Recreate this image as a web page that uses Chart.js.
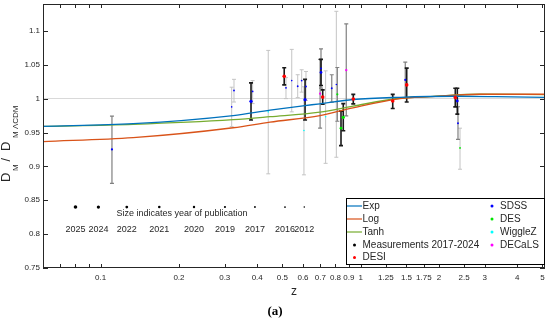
<!DOCTYPE html>
<html lang="en">
<head>
<meta charset="UTF-8">
<title>D_M / D_M LCDM vs z</title>
<style>
  body { margin: 0; background: #fff; }
  #wrap { width: 550px; height: 320px; position: relative; }
</style>
</head>
<body>
<div id="wrap"><canvas id="chart"></canvas></div>
<script src="https://cdn.jsdelivr.net/npm/chart.js"></script>
<script>
// model curves
const expZ = [0.06, 0.1334, 0.3232, 0.448, 0.6, 0.697, 0.934, 1.416, 2.306, 3.3, 5.115];
const expVal = [0.959, 0.963, 0.975, 0.983, 0.9894, 0.9924, 0.9987, 1.002, 1.0035, 1.003, 1.002];
const logZ = [0.06, 0.1334, 0.3232, 0.448, 0.697, 0.934, 1.416, 1.85, 2.87, 5.115];
const logVal = [0.9366, 0.9424, 0.957, 0.9653, 0.975, 0.9865, 1.0001, 1.003, 1.0065, 1.0065];
const tanhZ = [0.06, 0.1334, 0.3232, 0.448, 0.697, 0.934, 1.416, 1.85, 2.87, 5.115];
const tanhVal = [0.959, 0.962, 0.9689, 0.9733, 0.980, 0.989, 1.0006, 1.003, 1.0065, 1.006];

// measurements: z, value, lower / upper end of error bar, year of publication
const sdssZ = [0.1105, 0.319, 0.3256, 0.3786, 0.384, 0.516, 0.543, 0.5725, 0.593, 0.611, 0.616, 0.7036, 0.7036, 0.774, 0.806, 1.484, 2.353, 2.367];
const sdssVal = [0.925, 0.9878, 1.012, 0.9961, 1.0106, 1.016, 1.0266, 1.0183, 1.0266, 0.9985, 1.0179, 1.0445, 1.0387, 1.0154, 1.0208, 1.0276, 0.9965, 0.9637];
const sdssLo = [0.875, 0.9587, 0.995, 0.9685, 0.9927, 1.0, 0.9805, 1.0015, 1.0096, 0.9685, 0.9975, 1.0155, 1.0193, 0.995, 0.9135, 1.0015, 0.9772, 0.94];
const sdssHi = [0.9743, 1.0169, 1.0285, 1.0233, 1.0266, 1.031, 1.0727, 1.0353, 1.0426, 1.0285, 1.0401, 1.0735, 1.058, 1.0353, 1.1289, 1.0538, 1.0154, 0.988];
const sdssYear = [2019, 2012, 2016, 2024, 2016, 2016, 2012, 2016, 2016, 2024, 2016, 2017, 2022, 2017, 2012, 2019, 2022, 2017];

const desZ = [0.813, 0.840, 0.857, 2.41];
const desVal = [1.0063, 0.9564, 0.9724, 0.9273];
const desLo = [0.9666, 0.9307, 0.9525, 0.8958];
const desHi = [1.046, 0.9815, 0.9927, 0.9564];
const desYear = [2019, 2022, 2024, 2016];

const wigZ = [0.441, 0.605, 0.733];
const wigVal = [0.9805, 0.953, 0.9733];
const wigLo = [0.889, 0.8875, 0.9045];
const wigHi = [1.0712, 1.0175, 1.041];
const wigYear = [2012, 2012, 2012];

const decZ = [0.698, 0.880];
const decVal = [1.0073, 1.0421];
const decLo = [0.9564, 0.9747];
const decHi = [1.058, 1.1105];
const decYear = [2019, 2020];

const desiZ = [0.508, 0.7143, 0.9365, 1.328, 1.503, 2.311];
const desiVal = [1.0329, 1.0023, 0.9994, 0.9965, 1.0203, 1.0015];
const desiLo = [1.0203, 0.9917, 0.9922, 0.9855, 0.995, 0.9878];
const desiHi = [1.0455, 1.013, 1.0063, 1.0063, 1.045, 1.0154];
const desiYear = [2025, 2025, 2025, 2025, 2025, 2025];

// size key
const keyYears = [2025, 2024, 2022, 2021, 2020, 2019, 2017, 2016, 2012];
const keyZ = [0.080, 0.098, 0.126, 0.168, 0.2285, 0.3006, 0.392, 0.5115, 0.6068];
const keyLevel = 0.84;

// axes
const xTicks = [0.07, 0.08, 0.09, 0.1, 0.2, 0.3, 0.4, 0.5, 0.6, 0.7, 0.8, 0.9, 1, 1.25, 1.5, 1.75, 2, 2.5, 3, 4, 5];
const xUnlabelled = [0.07, 0.08, 0.09];
const yTicks = [0.75, 0.8, 0.85, 0.9, 0.95, 1, 1.05, 1.1];

const TXT = '#262626';
const FONT = '"Liberation Sans", Arial, sans-serif';

function radiusFor(year) {
    const t = (year - 2012) / 13;
    return 0.8 + 1.0 * t * t;
}
function barStyle(year) {
    if (year >= 2022) return { rank: 2, color: '#1a1a1a', width: 1.6 };
    if (year >= 2017) return { rank: 1, color: '#808080', width: 1.2 };
    return { rank: 0, color: '#c4c4c4', width: 1 };
}
function pts(zs, vs) { return zs.map((z, i) => ({ x: z, y: vs[i] })); }

function survey(label, color, zs, vs, lo, hi, years) {
    return {
        label, data: pts(zs, vs), lo, hi, years,
        backgroundColor: color, borderColor: color,
        pointRadius: years.map(radiusFor), pointBorderWidth: 0,
        order: 0
    };
}
function curve(label, color, zs, vs) {
    return {
        label, data: pts(zs, vs), showLine: true, borderColor: color, borderWidth: 1.3,
        pointRadius: 0, cubicInterpolationMode: 'monotone', fill: false, order: 1
    };
}

const errorBars = {
    id: 'errorBars',
    beforeDatasetsDraw(chart) {
        const { ctx, scales: { x, y } } = chart;
        const bars = [];
        chart.data.datasets.forEach(ds => {
            if (!ds.lo) return;
            ds.data.forEach((p, i) => bars.push({ z: p.x, lo: ds.lo[i], hi: ds.hi[i], s: barStyle(ds.years[i]) }));
        });
        bars.sort((a, b) => a.s.rank - b.s.rank);
        ctx.save();
        ctx.beginPath();
        ctx.rect(chart.chartArea.left, chart.chartArea.top, chart.chartArea.width, chart.chartArea.height);
        ctx.clip();
        bars.forEach(b => {
            const px = x.getPixelForValue(b.z);
            const y1 = y.getPixelForValue(b.lo), y2 = y.getPixelForValue(b.hi);
            ctx.strokeStyle = b.s.color;
            ctx.lineWidth = b.s.width;
            ctx.beginPath();
            ctx.moveTo(px, y1); ctx.lineTo(px, y2);
            ctx.moveTo(px - 2, y1); ctx.lineTo(px + 2, y1);
            ctx.moveTo(px - 2, y2); ctx.lineTo(px + 2, y2);
            ctx.stroke();
        });
        ctx.restore();
    }
};

const decorations = {
    id: 'decorations',
    afterDraw(chart) {
        const { ctx, chartArea: a, scales: { x, y } } = chart;
        ctx.save();
        // frame and inward ticks
        ctx.strokeStyle = TXT;
        ctx.lineWidth = 1;
        ctx.strokeRect(a.left + 0.5, a.top + 0.5, a.width - 1, a.height - 1);
        ctx.beginPath();
        xTicks.forEach(v => {
            const px = Math.round(x.getPixelForValue(v)) + 0.5;
            ctx.moveTo(px, a.bottom); ctx.lineTo(px, a.bottom - 4);
            ctx.moveTo(px, a.top); ctx.lineTo(px, a.top + 4);
        });
        yTicks.forEach(v => {
            const py = Math.round(y.getPixelForValue(v)) + 0.5;
            ctx.moveTo(a.left, py); ctx.lineTo(a.left + 5, py);
            ctx.moveTo(a.right, py); ctx.lineTo(a.right - 5, py);
        });
        ctx.stroke();

        // size key text
        ctx.fillStyle = TXT;
        ctx.textAlign = 'center';
        ctx.textBaseline = 'middle';
        ctx.font = '9px ' + FONT;
        ctx.fillText('Size indicates year of publication', 182, 213.5);
        keyYears.forEach((yr, i) => ctx.fillText(String(yr), x.getPixelForValue(keyZ[i]), 230));

        // legend box
        const bx = 346, by = 198, bw = 199, bh = 67;
        ctx.fillStyle = '#fff';
        ctx.fillRect(bx, by, bw, bh);
        ctx.strokeStyle = '#000';
        ctx.strokeRect(bx + 0.5, by + 0.5, bw - 1, bh - 1);
        ctx.font = '10px ' + FONT;
        ctx.textAlign = 'left';
        const rows = [206, 219, 232, 245, 257.5];
        const left = [
            { t: 'Exp', line: '#0072BD' }, { t: 'Log', line: '#D95319' }, { t: 'Tanh', line: '#77AC30' },
            { t: 'Measurements 2017-2024', dot: '#000' }, { t: 'DESI', dot: '#ff0000' }
        ];
        const right = [
            { t: 'SDSS', dot: '#0000ff' }, { t: 'DES', dot: '#00e600' },
            { t: 'WiggleZ', dot: '#00ffff' }, { t: 'DECaLS', dot: '#ff00ff' }
        ];
        left.forEach((it, i) => {
            if (it.line) {
                ctx.strokeStyle = it.line; ctx.lineWidth = 1.2;
                ctx.beginPath(); ctx.moveTo(347, rows[i]); ctx.lineTo(362, rows[i]); ctx.stroke();
            } else {
                ctx.fillStyle = it.dot;
                ctx.beginPath(); ctx.arc(354.5, rows[i], 1.5, 0, Math.PI * 2); ctx.fill();
            }
            ctx.fillStyle = TXT;
            ctx.fillText(it.t, 362.5, rows[i]);
        });
        right.forEach((it, i) => {
            ctx.fillStyle = it.dot;
            ctx.beginPath(); ctx.arc(492, rows[i], 1.5, 0, Math.PI * 2); ctx.fill();
            ctx.fillStyle = TXT;
            ctx.fillText(it.t, 500, rows[i]);
        });

        // axis titles
        ctx.fillStyle = TXT;
        ctx.textAlign = 'center';
        ctx.textBaseline = 'middle';
        ctx.font = '12px ' + FONT;
        ctx.fillText('z', 294, 292);

        ctx.save();
        ctx.translate(10, 182);
        ctx.rotate(-Math.PI / 2);
        ctx.textAlign = 'left';
        ctx.textBaseline = 'alphabetic';
        const big = '13px ' + FONT, small = '8px ' + FONT;
        ctx.font = big; ctx.fillText('D', 0, 0);
        ctx.font = small; ctx.fillText('M', 11, 8);
        ctx.font = big; ctx.fillText('/', 20.5, 0);
        ctx.font = big; ctx.fillText('D', 31, 0);
        ctx.font = small; ctx.fillText('M \u039BCDM', 44, 8);
        ctx.restore();

        ctx.font = 'bold 13px "Liberation Serif", serif';
        ctx.fillStyle = '#000';
        ctx.fillText('(a)', 275, 312);
        ctx.restore();
    }
};

new Chart(document.getElementById('chart'), {
    type: 'scatter',
    data: {
        datasets: [
            curve('Exp', '#0072BD', expZ, expVal),
            curve('Log', '#D95319', logZ, logVal),
            curve('Tanh', '#77AC30', tanhZ, tanhVal),
            survey('SDSS', '#0000ff', sdssZ, sdssVal, sdssLo, sdssHi, sdssYear),
            survey('DES', '#00e600', desZ, desVal, desLo, desHi, desYear),
            survey('WiggleZ', '#00ffff', wigZ, wigVal, wigLo, wigHi, wigYear),
            survey('DECaLS', '#ff00ff', decZ, decVal, decLo, decHi, decYear),
            survey('DESI', '#ff0000', desiZ, desiVal, desiLo, desiHi, desiYear),
            {
                label: 'size key', data: keyZ.map(z => ({ x: z, y: keyLevel })),
                backgroundColor: '#000', pointRadius: keyYears.map(radiusFor), pointBorderWidth: 0, order: 0
            }
        ]
    },
    options: {
        responsive: true,
        maintainAspectRatio: false,
        animation: false,
        layout: { padding: { left: 0, right: 5, top: 3, bottom: 0 } },
        plugins: { legend: { display: false }, tooltip: { enabled: false } },
        scales: {
            x: {
                type: 'logarithmic', min: 0.06, max: 5.115,
                afterBuildTicks: s => { s.ticks = xTicks.map(v => ({ value: v })); },
                afterFit: s => { s.height = 52; s.paddingLeft = 0; s.paddingRight = 0; },
                grid: { display: false, drawTicks: false },
                border: { display: false },
                ticks: {
                    autoSkip: false, maxRotation: 0, padding: 5,
                    color: TXT, font: { family: FONT, size: 8 },
                    callback: v => xUnlabelled.includes(v) ? '' : String(v)
                }
            },
            y: {
                min: 0.75, max: 1.1397,
                afterBuildTicks: s => { s.ticks = yTicks.map(v => ({ value: v })); },
                afterFit: s => { s.width = 43; s.paddingTop = 0; s.paddingBottom = 0; },
                grid: {
                    drawTicks: false,
                    color: c => (c.tick && c.tick.value === 1) ? '#d9d9d9' : 'rgba(0,0,0,0)'
                },
                border: { display: false },
                ticks: {
                    padding: 3, color: TXT, font: { family: FONT, size: 8 },
                    callback: v => String(+v.toFixed(2))
                }
            }
        }
    },
    plugins: [errorBars, decorations]
});
</script>
</body>
</html>
